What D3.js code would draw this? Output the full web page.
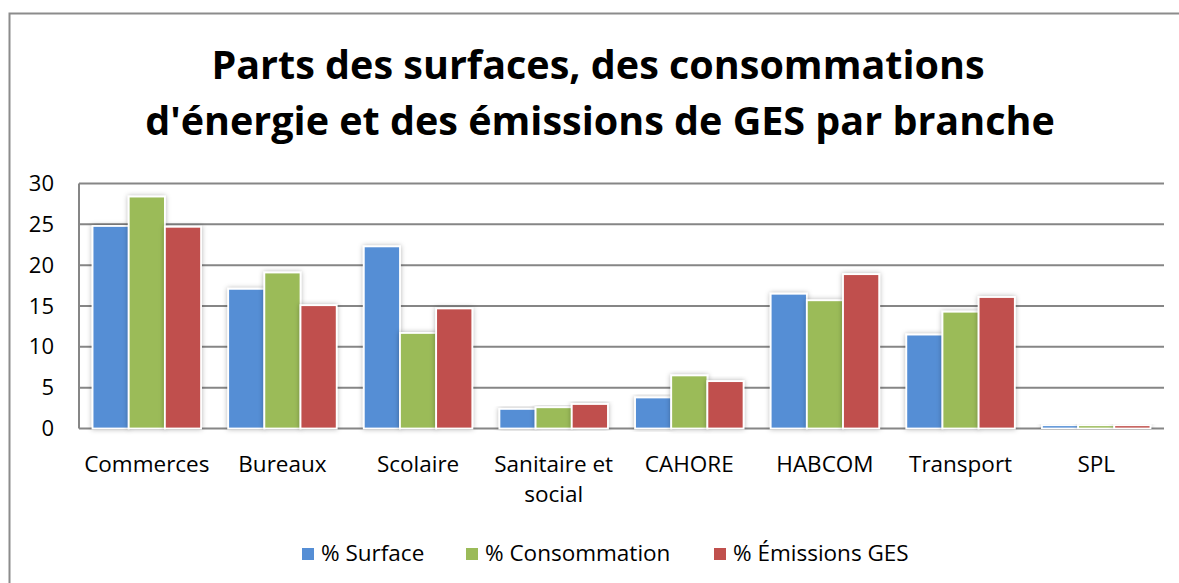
<!DOCTYPE html>
<meta charset="utf-8">
<style>
body { margin: 0; background: #fff; }
text { font-family: "Open Sans", sans-serif; fill: #000; }
.title { font-weight: bold; font-size: 39.5px; }
.tick text { font-size: 22px; }
.cat text { font-size: 22.5px; }
.legend text { font-size: 22.5px; }
</style>
<svg width="1179" height="583"></svg>
<script src="https://cdn.jsdelivr.net/npm/d3@7"></script>
<script>

var categories = ["Commerces", "Bureaux", "Scolaire", "Sanitaire et social", "CAHORE", "HABCOM", "Transport", "SPL"];
var series = ["% Surface", "% Consommation", "% Émissions GES"];
var surface = [24.8, 17.1, 22.3, 2.4, 3.8, 16.5, 11.5, 0.4];
var consommation = [28.4, 19.1, 11.7, 2.6, 6.5, 15.7, 14.3, 0.4];
var emissions = [24.7, 15.1, 14.7, 3.0, 5.8, 18.9, 16.1, 0.4];
var yTicks = [0, 5, 10, 15, 20, 25, 30];
var colors = ["#558ed5", "#9bbb59", "#c0504d"];

var values = [surface, consommation, emissions];
var svg = d3.select("svg");

// frame of the chart (cropped on right and bottom)
svg.append("rect")
    .attr("x", 9.5).attr("y", 13.5)
    .attr("width", 1200).attr("height", 620)
    .attr("fill", "none")
    .attr("stroke", "#8c8c8c")
    .attr("stroke-width", 2);

var defs = svg.append("defs");
defs.append("filter")
    .attr("id", "shadow")
    .attr("x", "-30%").attr("y", "-10%")
    .attr("width", "160%").attr("height", "120%")
  .append("feDropShadow")
    .attr("dx", 0).attr("dy", 0)
    .attr("stdDeviation", 2.5)
    .attr("flood-color", "#000")
    .attr("flood-opacity", 0.3);

var title = svg.append("text")
    .attr("class", "title")
    .attr("text-anchor", "middle");
title.append("tspan").attr("x", 598).attr("y", 79).text("Parts des surfaces, des consommations");
title.append("tspan").attr("x", 600).attr("y", 135).text("d'énergie et des émissions de GES par branche");

var x0 = d3.scaleBand().domain(categories).range([79, 1164]);
var x1 = d3.scaleBand().domain(series)
    .range([x0.bandwidth() * 0.1, x0.bandwidth() * 0.9]);
var y = d3.scaleLinear().domain([0, 30]).range([428.5, 183.5]);

// gridlines and axis
var grid = svg.append("g");
grid.selectAll("line")
    .data(yTicks)
    .enter().append("line")
      .attr("x1", 79).attr("x2", 1164)
      .attr("y1", function(d) { return y(d); })
      .attr("y2", function(d) { return y(d); })
      .attr("stroke", "#868686")
      .attr("stroke-width", 2);
grid.append("line")
    .attr("x1", 79).attr("x2", 79)
    .attr("y1", y(0)).attr("y2", y(30))
    .attr("stroke", "#868686")
    .attr("stroke-width", 2);

var yAxis = svg.append("g")
    .attr("transform", "translate(54,0)")
    .call(d3.axisLeft(y).tickValues(yTicks).tickSize(0).tickPadding(0));
yAxis.select(".domain").remove();
yAxis.selectAll("text").attr("font-family", null).attr("font-size", null).attr("fill", "#000");

// bars
var groups = svg.append("g")
  .selectAll("g")
  .data(categories)
  .enter().append("g")
    .attr("transform", function(d) { return "translate(" + x0(d) + ",0)"; });

groups.selectAll("rect")
    .data(function(d, i) {
      return series.map(function(s, j) { return {s: s, v: values[j][i], c: colors[j]}; });
    })
    .enter().append("rect")
      .attr("x", function(d) { return x1(d.s); })
      .attr("width", x1.bandwidth())
      .attr("y", function(d) { return y(d.v); })
      .attr("height", function(d) { return y(0) - y(d.v); })
      .attr("fill", function(d) { return d.c; })
      .attr("stroke", "#fff")
      .attr("stroke-width", 1.8)
      .attr("filter", "url(#shadow)");

// category labels
var cat = svg.append("g").attr("class", "cat");
cat.selectAll("text")
    .data(categories)
    .enter().append("text")
      .attr("text-anchor", "middle")
      .each(function(d) {
        var lines = d == "Sanitaire et social" ? ["Sanitaire et", "social"] : [d];
        var t = d3.select(this);
        lines.forEach(function(l, k) {
          t.append("tspan")
            .attr("x", x0(d) + x0.bandwidth() / 2)
            .attr("y", 472 + k * 30)
            .text(l);
        });
      });

// legend
var legendX = [302, 466, 714];
var legend = svg.append("g").attr("class", "legend")
  .selectAll("g")
  .data(series)
  .enter().append("g")
    .attr("transform", function(d, i) { return "translate(" + legendX[i] + ",548)"; });
legend.append("rect")
    .attr("width", 12).attr("height", 12)
    .attr("fill", function(d, i) { return colors[i]; });
legend.append("text")
    .attr("x", 19).attr("y", 13)
    .text(function(d) { return d; });

</script>
